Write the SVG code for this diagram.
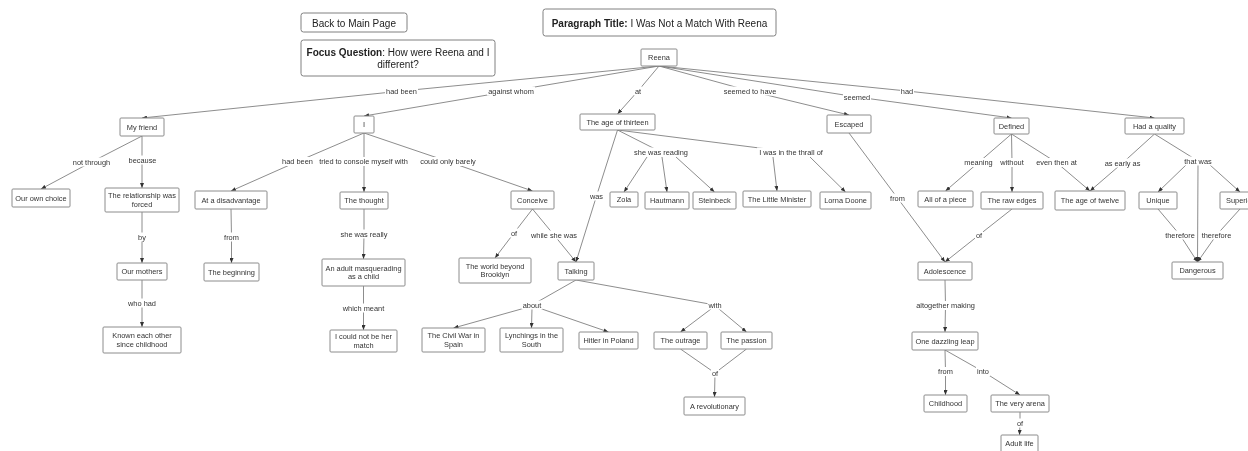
<svg xmlns="http://www.w3.org/2000/svg" width="1248" height="451" viewBox="0 0 1248 451" style="will-change:transform">
<style>
  .bg{fill:#fff}
  .box{fill:#fff;stroke:#8c8c8c;stroke-width:1}
  .hbox{fill:#fff;stroke:#808080;stroke-width:1}
  .t{font-family:"Liberation Sans",Arial,sans-serif;font-size:7.4px;fill:#333;text-anchor:middle}
  .h{font-family:"Liberation Sans",Arial,sans-serif;font-size:10px;fill:#222;text-anchor:middle}
  .c{fill:none;stroke:#707070;stroke-width:0.8}
  .a{marker-end:url(#ah)}
  .lb{fill:#fff}
  .layer{will-change:transform;opacity:0.999}
</style>
<defs>
  <marker id="ah" markerUnits="userSpaceOnUse" markerWidth="5" markerHeight="4" viewBox="0 0 5 4" refX="5" refY="2" orient="auto">
    <path d="M0,0 L5,2 L0,4 z" fill="#333"/>
  </marker>
</defs>
<rect class="bg" x="0" y="0" width="1248" height="451"/>
<g class="layer">

<!-- header panels -->
<g id="back-link">
  <rect class="hbox" x="301" y="13" width="106" height="19" rx="2.5"/>
  <text class="h" x="354" y="26.8">Back to Main Page</text>
</g>
<g id="focus-question">
  <rect class="hbox" x="301" y="40" width="194" height="36" rx="2.5"/>
  <text class="h" x="398" y="56.2"><tspan font-weight="bold">Focus Question</tspan>: How were Reena and I</text>
  <text class="h" x="398" y="67.8">different?</text>
</g>
<g id="paragraph-title">
  <rect class="hbox" x="543" y="9" width="233" height="27" rx="2.5"/>
  <text class="h" x="659.5" y="27"><tspan font-weight="bold">Paragraph Title:</tspan> I Was Not a Match With Reena</text>
</g>

<!-- connectors -->
<g id="connectors">
  <!-- Reena -->
  <path class="c" d="M659,66 L401.5,91"/><path class="c a" d="M401.5,91 L142,118"/>
  <path class="c" d="M659,66 L511,91"/><path class="c a" d="M511,91 L364,116"/>
  <path class="c" d="M659,66 L638,91"/><path class="c a" d="M638,91 L617.5,114"/>
  <path class="c" d="M659,66 L750,91"/><path class="c a" d="M750,91 L849,115"/>
  <path class="c" d="M659,66 L857,97"/><path class="c a" d="M857,97 L1011.5,118"/>
  <path class="c" d="M659,66 L907,91"/><path class="c a" d="M907,91 L1154.5,118"/>
  <!-- My friend -->
  <path class="c" d="M142,136 L91.5,162"/><path class="c a" d="M91.5,162 L41,189"/>
  <path class="c" d="M142,136 L142,160"/><path class="c a" d="M142,160 L142,188"/>
  <path class="c" d="M142,212 L142,237"/><path class="c a" d="M142,237 L142,263"/>
  <path class="c" d="M142,280 L142,303"/><path class="c a" d="M142,303 L142,327"/>
  <!-- I -->
  <path class="c" d="M364,133 L297.5,161.5"/><path class="c a" d="M297.5,161.5 L231,191"/>
  <path class="c" d="M364,133 L364,161.5"/><path class="c a" d="M364,161.5 L364,192"/>
  <path class="c" d="M364,133 L448,161.5"/><path class="c a" d="M448,161.5 L532.5,191"/>
  <path class="c" d="M231,209 L231.5,237"/><path class="c a" d="M231.5,237 L231.5,263"/>
  <path class="c" d="M364,209 L364,234"/><path class="c a" d="M364,234 L363.5,259"/>
  <path class="c" d="M363.5,286 L363.5,308"/><path class="c a" d="M363.5,308 L363.5,330"/>
  <!-- Conceive -->
  <path class="c" d="M532.5,209 L514,233"/><path class="c a" d="M514,233 L495,258"/>
  <path class="c" d="M532.5,209 L554,235"/><path class="c a" d="M554,235 L576,262"/>
  <!-- The age of thirteen -->
  <path class="c" d="M617.5,130 L596.5,196"/><path class="c a" d="M596.5,196 L576,262"/>
  <path class="c" d="M617.5,130 L661,152"/>
  <path class="c a" d="M647,157 L624,192"/>
  <path class="c a" d="M662,157 L667,192"/>
  <path class="c a" d="M676,157 L714.5,192"/>
  <path class="c" d="M617.5,130 L791,152"/>
  <path class="c a" d="M773,157 L777,191"/>
  <path class="c a" d="M810,157 L845.5,192"/>
  <!-- Escaped -->
  <path class="c" d="M849,133 L897.5,198"/><path class="c a" d="M897.5,198 L945,262"/>
  <!-- Defined -->
  <path class="c" d="M1011.5,134 L978.5,162.5"/><path class="c a" d="M978.5,162.5 L945.5,191"/>
  <path class="c" d="M1011.5,134 L1012,162.5"/><path class="c a" d="M1012,162.5 L1012,192"/>
  <path class="c" d="M1011.5,134 L1056.5,162.5"/><path class="c a" d="M1056.5,162.5 L1090,191"/>
  <!-- Had a quality -->
  <path class="c" d="M1154.5,134 L1122.5,163"/><path class="c a" d="M1122.5,163 L1090,191"/>
  <path class="c" d="M1154.5,134 L1198,161"/>
  <path class="c a" d="M1186,165 L1158,192"/>
  <path class="c a" d="M1198,165 L1197.5,262"/>
  <path class="c a" d="M1210,165 L1240,192"/>
  <path class="c" d="M1012,209 L979,235"/><path class="c a" d="M979,235 L945,262"/>
  <path class="c" d="M1158,209 L1180,235"/><path class="c a" d="M1180,235 L1197.5,262"/>
  <path class="c" d="M1240,209 L1216.5,235"/><path class="c a" d="M1216.5,235 L1197.5,262"/>
  <!-- Adolescence -->
  <path class="c" d="M945,280 L945.5,305.5"/><path class="c a" d="M945.5,305.5 L945,332"/>
  <path class="c" d="M945,350 L945.5,371.5"/><path class="c a" d="M945.5,371.5 L945.5,395"/>
  <path class="c" d="M945,350 L983,371.5"/><path class="c a" d="M983,371.5 L1020,395"/>
  <path class="c" d="M1020,412 L1020,423"/><path class="c a" d="M1020,423 L1019.5,435"/>
  <!-- Talking -->
  <path class="c" d="M576,280 L532,305"/>
  <path class="c a" d="M525,308 L453.5,328"/>
  <path class="c a" d="M532,308 L531.5,328"/>
  <path class="c a" d="M539,308 L608.5,332"/>
  <path class="c" d="M576,280 L715,305"/>
  <path class="c a" d="M711,309 L680.5,332"/>
  <path class="c a" d="M719,309 L746.5,332"/>
  <path class="c" d="M680.5,349 L715,373"/>
  <path class="c" d="M746.5,349 L715,373"/>
  <path class="c a" d="M715,373 L714.5,397"/>

  <!-- link labels -->
  <rect class="lb" x="385" y="86.5" width="33" height="9"/><text class="t" x="401.5" y="93.6">had been</text>
  <rect class="lb" x="487" y="86.5" width="48" height="9"/><text class="t" x="511" y="93.6">against whom</text>
  <rect class="lb" x="634" y="86.5" width="8" height="9"/><text class="t" x="638" y="93.6">at</text>
  <rect class="lb" x="722.5" y="86.5" width="55" height="9"/><text class="t" x="750" y="93.6">seemed to have</text>
  <rect class="lb" x="843" y="92.5" width="28" height="9"/><text class="t" x="857" y="99.6">seemed</text>
  <rect class="lb" x="900" y="86.5" width="14" height="9"/><text class="t" x="907" y="93.6">had</text>
  <rect class="lb" x="72" y="157.5" width="39" height="9"/><text class="t" x="91.5" y="164.6">not through</text>
  <rect class="lb" x="127.5" y="155.5" width="30" height="9"/><text class="t" x="142.5" y="162.6">because</text>
  <rect class="lb" x="137" y="232.5" width="10" height="9"/><text class="t" x="142" y="239.6">by</text>
  <rect class="lb" x="127" y="298.5" width="30" height="9"/><text class="t" x="142" y="305.6">who had</text>
  <rect class="lb" x="281" y="157" width="33" height="9"/><text class="t" x="297.5" y="164.1">had been</text>
  <rect class="lb" x="318" y="157" width="91" height="9"/><text class="t" x="363.5" y="164.1">tried to console myself with</text>
  <rect class="lb" x="419" y="157" width="58" height="9"/><text class="t" x="448" y="164.1">could only barely</text>
  <rect class="lb" x="223" y="232.5" width="17" height="9"/><text class="t" x="231.5" y="239.6">from</text>
  <rect class="lb" x="339.5" y="229.5" width="49" height="9"/><text class="t" x="364" y="236.6">she was really</text>
  <rect class="lb" x="341.5" y="303.5" width="44" height="9"/><text class="t" x="363.5" y="310.6">which meant</text>
  <rect class="lb" x="510" y="228.5" width="8" height="9"/><text class="t" x="514" y="235.6">of</text>
  <rect class="lb" x="530" y="230.5" width="48" height="9"/><text class="t" x="554" y="237.6">while she was</text>
  <rect class="lb" x="589" y="191.5" width="15" height="9"/><text class="t" x="596.5" y="198.6">was</text>
  <rect class="lb" x="633" y="147.5" width="56" height="9"/><text class="t" x="661" y="154.6">she was reading</text>
  <rect class="lb" x="757" y="147.5" width="68" height="9"/><text class="t" x="791" y="154.6">I was in the thrall of</text>
  <rect class="lb" x="889" y="193.5" width="17" height="9"/><text class="t" x="897.5" y="200.6">from</text>
  <rect class="lb" x="963" y="158" width="31" height="9"/><text class="t" x="978.5" y="165.1">meaning</text>
  <rect class="lb" x="999" y="158" width="26" height="9"/><text class="t" x="1012" y="165.1">without</text>
  <rect class="lb" x="1035" y="158" width="43" height="9"/><text class="t" x="1056.5" y="165.1">even then at</text>
  <rect class="lb" x="1103.5" y="158.5" width="38" height="9"/><text class="t" x="1122.5" y="165.6">as early as</text>
  <rect class="lb" x="1183" y="156.5" width="30" height="9"/><text class="t" x="1198" y="163.6">that was</text>
  <rect class="lb" x="975" y="230.5" width="8" height="9"/><text class="t" x="979" y="237.6">of</text>
  <rect class="lb" x="1164.5" y="230.5" width="31" height="9"/><text class="t" x="1180" y="237.6">therefore</text>
  <rect class="lb" x="1201" y="230.5" width="31" height="9"/><text class="t" x="1216.5" y="237.6">therefore</text>
  <rect class="lb" x="915" y="301" width="61" height="9"/><text class="t" x="945.5" y="308.1">altogether making</text>
  <rect class="lb" x="937" y="367" width="17" height="9"/><text class="t" x="945.5" y="374.1">from</text>
  <rect class="lb" x="976" y="367" width="14" height="9"/><text class="t" x="983" y="374.1">into</text>
  <rect class="lb" x="1016" y="418.5" width="8" height="9"/><text class="t" x="1020" y="425.6">of</text>
  <rect class="lb" x="521.5" y="300.5" width="21" height="9"/><text class="t" x="532" y="307.6">about</text>
  <rect class="lb" x="707.5" y="300.5" width="15" height="9"/><text class="t" x="715" y="307.6">with</text>
  <rect class="lb" x="711" y="368.5" width="8" height="9"/><text class="t" x="715" y="375.6">of</text>
</g>

<!-- concept nodes -->
<g id="n-reena"><rect class="box" x="641" y="49" width="36" height="17" rx="1"/><text class="t" x="659" y="60.1">Reena</text></g>
<g id="n-my-friend"><rect class="box" x="120" y="118" width="44" height="18" rx="1"/><text class="t" x="142" y="129.6">My friend</text></g>
<g id="n-i"><rect class="box" x="354" y="116" width="20" height="17" rx="1"/><text class="t" x="364" y="127.1">I</text></g>
<g id="n-age-thirteen"><rect class="box" x="580" y="114" width="75" height="16" rx="1"/><text class="t" x="617.5" y="124.6">The age of thirteen</text></g>
<g id="n-escaped"><rect class="box" x="827" y="115" width="44" height="18" rx="1"/><text class="t" x="849" y="126.6">Escaped</text></g>
<g id="n-defined"><rect class="box" x="994" y="118" width="35" height="16" rx="1"/><text class="t" x="1011.5" y="128.6">Defined</text></g>
<g id="n-had-quality"><rect class="box" x="1125" y="118" width="59" height="16" rx="1"/><text class="t" x="1154.5" y="128.6">Had a quality</text></g>
<g id="n-own-choice"><rect class="box" x="12" y="189" width="58" height="18" rx="1"/><text class="t" x="41" y="200.6">Our own choice</text></g>
<g id="n-forced"><rect class="box" x="105" y="188" width="74" height="24" rx="1"/><text class="t" x="142" y="198.3">The relationship was</text><text class="t" x="142" y="206.9">forced</text></g>
<g id="n-disadvantage"><rect class="box" x="195" y="191" width="72" height="18" rx="1"/><text class="t" x="231" y="202.6">At a disadvantage</text></g>
<g id="n-thought"><rect class="box" x="340" y="192" width="48" height="17" rx="1"/><text class="t" x="364" y="203.1">The thought</text></g>
<g id="n-conceive"><rect class="box" x="511" y="191" width="43" height="18" rx="1"/><text class="t" x="532.5" y="202.6">Conceive</text></g>
<g id="n-zola"><rect class="box" x="610" y="192" width="28" height="15" rx="1"/><text class="t" x="624" y="202.1">Zola</text></g>
<g id="n-hautmann"><rect class="box" x="645" y="192" width="44" height="17" rx="1"/><text class="t" x="667" y="203.1">Hautmann</text></g>
<g id="n-steinbeck"><rect class="box" x="693" y="192" width="43" height="17" rx="1"/><text class="t" x="714.5" y="203.1">Steinbeck</text></g>
<g id="n-little-minister"><rect class="box" x="743" y="191" width="68" height="16" rx="1"/><text class="t" x="777" y="201.6">The Little Minister</text></g>
<g id="n-lorna-doone"><rect class="box" x="820" y="192" width="51" height="17" rx="1"/><text class="t" x="845.5" y="203.1">Lorna Doone</text></g>
<g id="n-all-of-piece"><rect class="box" x="918" y="191" width="55" height="16" rx="1"/><text class="t" x="945.5" y="201.6">All of a piece</text></g>
<g id="n-raw-edges"><rect class="box" x="981" y="192" width="62" height="17" rx="1"/><text class="t" x="1012" y="203.1">The raw edges</text></g>
<g id="n-age-twelve"><rect class="box" x="1055" y="191" width="70" height="19" rx="1"/><text class="t" x="1090" y="203.1">The age of twelve</text></g>
<g id="n-unique"><rect class="box" x="1139" y="192" width="38" height="17" rx="1"/><text class="t" x="1158" y="203.1">Unique</text></g>
<g id="n-superior"><rect class="box" x="1220" y="192" width="40" height="17" rx="1"/><text class="t" x="1240" y="203.1">Superior</text></g>
<g id="n-our-mothers"><rect class="box" x="117" y="263" width="50" height="17" rx="1"/><text class="t" x="142" y="274.1">Our mothers</text></g>
<g id="n-beginning"><rect class="box" x="204" y="263" width="55" height="18" rx="1"/><text class="t" x="231.5" y="274.6">The beginning</text></g>
<g id="n-adult-child"><rect class="box" x="322" y="259" width="83" height="27" rx="1"/><text class="t" x="363.5" y="270.8">An adult masquerading</text><text class="t" x="363.5" y="279.4">as a child</text></g>
<g id="n-world"><rect class="box" x="459" y="258" width="72" height="25" rx="1"/><text class="t" x="495" y="268.8">The world beyond</text><text class="t" x="495" y="277.4">Brooklyn</text></g>
<g id="n-talking"><rect class="box" x="558" y="262" width="36" height="18" rx="1"/><text class="t" x="576" y="273.6">Talking</text></g>
<g id="n-adolescence"><rect class="box" x="918" y="262" width="54" height="18" rx="1"/><text class="t" x="945" y="273.6">Adolescence</text></g>
<g id="n-dangerous"><rect class="box" x="1172" y="262" width="51" height="17" rx="1"/><text class="t" x="1197.5" y="273.1">Dangerous</text></g>
<g id="n-known"><rect class="box" x="103" y="327" width="78" height="26" rx="1"/><text class="t" x="142" y="338">Known each other</text><text class="t" x="142" y="346.6">since childhood</text></g>
<g id="n-not-match"><rect class="box" x="330" y="330" width="67" height="22" rx="1"/><text class="t" x="363.5" y="339.3">I could not be her</text><text class="t" x="363.5" y="347.9">match</text></g>
<g id="n-civil-war"><rect class="box" x="422" y="328" width="63" height="24" rx="1"/><text class="t" x="453.5" y="338.3">The Civil War in</text><text class="t" x="453.5" y="346.9">Spain</text></g>
<g id="n-lynchings"><rect class="box" x="500" y="328" width="63" height="24" rx="1"/><text class="t" x="531.5" y="338.3">Lynchings in the</text><text class="t" x="531.5" y="346.9">South</text></g>
<g id="n-hitler"><rect class="box" x="579" y="332" width="59" height="17" rx="1"/><text class="t" x="608.5" y="343.1">Hitler in Poland</text></g>
<g id="n-outrage"><rect class="box" x="654" y="332" width="53" height="17" rx="1"/><text class="t" x="680.5" y="343.1">The outrage</text></g>
<g id="n-passion"><rect class="box" x="721" y="332" width="51" height="17" rx="1"/><text class="t" x="746.5" y="343.1">The passion</text></g>
<g id="n-dazzling-leap"><rect class="box" x="912" y="332" width="66" height="18" rx="1"/><text class="t" x="945" y="343.6">One dazzling leap</text></g>
<g id="n-revolutionary"><rect class="box" x="684" y="397" width="61" height="18" rx="1"/><text class="t" x="714.5" y="408.6">A revolutionary</text></g>
<g id="n-childhood"><rect class="box" x="924" y="395" width="43" height="17" rx="1"/><text class="t" x="945.5" y="406.1">Childhood</text></g>
<g id="n-very-arena"><rect class="box" x="991" y="395" width="58" height="17" rx="1"/><text class="t" x="1020" y="406.1">The very arena</text></g>
<g id="n-adult-life"><rect class="box" x="1001" y="435" width="37" height="18" rx="1"/><text class="t" x="1019.5" y="446.1">Adult life</text></g>
</g>
</svg>
